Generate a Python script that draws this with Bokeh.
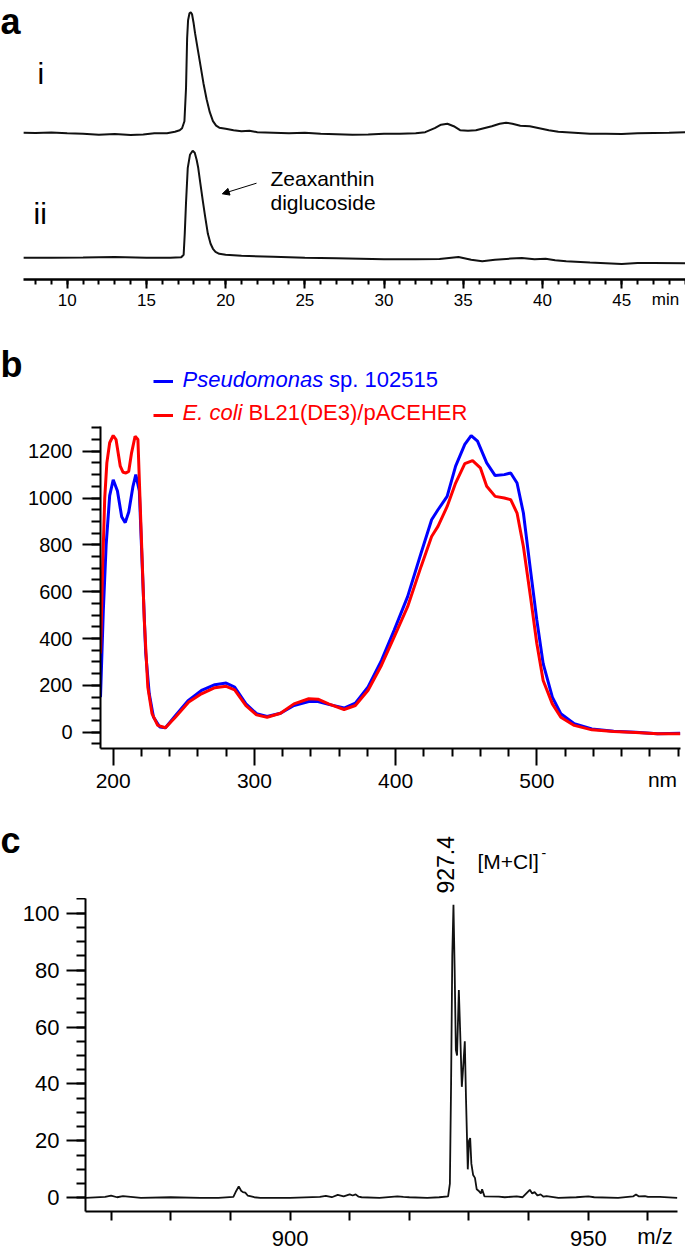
import numpy as np
from bokeh.plotting import figure
from bokeh.layouts import column
from bokeh.models import (Range1d, SingleIntervalTicker, FixedTicker, Label, LinearAxis,
                          Arrow, NormalHead, Legend, LegendItem)
from bokeh.embed import file_html
from bokeh.resources import INLINE

FONT = "Liberation Sans"

# ---------------- panel a: HPLC chromatograms (relative signal) ----------------
time_i = [7.25, 8.0, 9.0, 10.0, 11.0, 12.0, 13.0, 14.0, 14.8, 15.5, 16.3, 16.8, 17.1, 17.25,
          17.4, 17.5, 17.57, 17.63, 17.72, 17.8, 17.88, 17.97, 18.07, 18.25, 18.42, 18.6,
          18.8, 19.0, 19.2, 19.4, 19.6, 20.0, 20.5, 21.0, 21.5, 22.0, 23.0, 24.0, 25.0,
          26.0, 27.0, 28.0, 29.0, 30.0, 31.0, 32.0, 32.6, 33.2, 33.6, 34.0, 34.4, 34.8,
          35.3, 35.8, 36.3, 36.8, 37.3, 37.7, 38.1, 38.6, 39.2, 39.8, 40.4, 41.0, 42.0,
          43.0, 44.0, 45.0, 46.0, 47.0, 48.0, 49.0]
signal_i = [0.5, 0.3, 0.6, 0.0, -0.5, -1.5, -0.8, -1.8, -1.2, 0.0, 0.0, 1.5, 3.0, 5.0,
            12.0, 45.0, 95.0, 113.0, 120.0, 121.0, 119.0, 111.0, 100.0, 83.0, 67.0, 50.0,
            34.0, 21.0, 12.0, 7.5, 5.5, 4.5, 3.0, 2.0, 2.5, 1.0, 0.5, 0.0, 0.5,
            -0.5, -1.0, -1.5, -1.2, -0.5, -0.5, 0.0, 1.0, 5.0, 8.5, 9.5, 7.0, 3.0,
            2.5, 3.0, 5.0, 7.0, 9.5, 10.5, 9.5, 7.5, 7.0, 5.0, 3.0, 1.5, 0.5,
            -0.5, -0.5, -0.8, 0.0, 0.3, 0.5, 1.0]
time_ii = [7.25, 9.0, 11.0, 13.0, 15.0, 16.5, 17.2, 17.35, 17.42, 17.5, 17.61, 17.75,
           17.92, 18.05, 18.17, 18.27, 18.4, 18.56, 18.7, 18.88, 19.05, 19.2, 19.36,
           19.6, 20.0, 21.0, 23.0, 25.0, 27.0, 30.0, 32.0, 33.5, 34.7, 35.5, 36.2,
           37.0, 38.0, 38.7, 39.5, 40.2, 40.8, 41.5, 43.0, 45.0, 46.0, 47.0, 49.0]
signal_ii = [0.0, 0.0, 0.3, 0.7, 0.0, 0.0, 0.5, 3.0, 24.0, 55.0, 90.0, 103.0,
             107.0, 105.0, 98.0, 90.0, 75.0, 57.0, 42.0, 24.0, 14.0, 9.0, 6.0,
             4.0, 3.0, 2.0, 1.0, 0.0, -0.5, -1.5, -1.5, -1.2, 0.7, -2.0, -3.5,
             -2.0, -0.8, -0.3, -1.5, -1.0, -2.5, -3.5, -4.8, -6.2, -5.3, -5.3, -5.5]
trace_labels = ["i", "ii"]
OFFSET_I = 146.3
OFFSET_II = 21.7

# ---------------- panel b: UV-vis spectra ----------------
nm_blue = [191, 193, 195, 197.5, 200, 203, 206, 208.5, 211, 214, 216, 218.5, 220.5, 223,
           225.5, 228.5, 233, 237, 244, 253, 263, 272, 280, 286, 294, 301.5, 309, 318.5,
           328, 338.5, 345, 352.5, 363.5, 371.5, 380.5, 390, 399, 408.5, 418, 425.5, 430,
           436.5, 442.5, 449, 453.5, 458, 464.5, 470.5, 477, 481.5, 486, 490.5, 495.5,
           500, 504.5, 511, 517, 526.5, 539, 554.5, 570, 585.5, 601.5]
abs_blue = [150, 520, 800, 1010, 1078, 1030, 920, 895, 940, 1050, 1100, 1030, 720, 340,
            165, 65, 22, 19, 70, 135, 180, 203, 210, 193, 121, 79, 67, 81,
            114, 131, 131, 119, 103, 124, 193, 307, 436, 579, 764, 907, 950,
            1007, 1136, 1229, 1267, 1243, 1150, 1096, 1100, 1107, 1064, 936, 693,
            479, 293, 150, 79, 36, 14, 4, 0, -7, -4]
nm_red = [191, 192.5, 194, 195.5, 197.5, 200, 202, 205, 207, 209, 211, 213, 215.5, 217.5,
          219.5, 222, 224.5, 227.5, 231.5, 237, 244, 253.5, 262.5, 272, 280, 286, 294,
          301.5, 309, 318.5, 328, 338.5, 345, 352.5, 363.5, 371.5, 380.5, 390, 399, 408.5,
          418, 425.5, 430, 436.5, 442.5, 449, 454.5, 460, 464.5, 470.5, 477, 481.5, 486,
          490.5, 495.5, 500, 504.5, 511, 517, 526.5, 539, 554.5, 570, 585.5, 601.5]
abs_red = [336, 700, 1000, 1150, 1236, 1267, 1250, 1136, 1110, 1107, 1114, 1193, 1264, 1250,
           907, 479, 193, 79, 29, 19, 64, 129, 164, 190, 196, 181, 114,
           74, 64, 81, 121, 143, 141, 121, 97, 114, 179, 286, 407, 536,
           707, 836, 879, 964, 1064, 1147, 1160, 1129, 1050, 1007, 1000, 993, 936,
           793, 579, 379, 221, 121, 64, 29, 10, 3, -1, -7, -7]
legend_species = [("Pseudomonas", "sp. 102515"), ("E. coli", "BL21(DE3)/pACEHER")]
b_major_ticks = [200, 300, 400, 500]
b_minor_ticks = [220, 240, 260, 280, 320, 340, 360, 380, 420, 440, 460, 480,
                 520, 540, 560, 580, 600]

# ---------------- panel c: mass spectrum ----------------
mz = [865.7, 869, 870, 871, 872, 875, 880, 885, 888, 890.5, 891.0, 891.4, 891.8, 892.1,
      892.5, 892.9, 893.3, 894, 895, 900, 905, 906, 907, 908, 909, 910, 910.5, 911, 911.5,
      912, 915, 918, 919, 920, 923, 925, 926.5, 926.8, 927.0, 927.2, 927.4, 927.6, 927.8,
      928.0, 928.3, 928.5, 928.8, 929.0, 929.3, 929.5, 929.8, 930.0, 930.2, 930.4, 930.7,
      931.0, 931.3, 931.6, 932.0, 932.2, 932.6, 935, 936, 938, 939, 940.2, 940.6, 941,
      941.5, 942, 942.5, 943, 945, 948, 950, 951, 955, 957.5, 958, 958.5, 959.5, 960,
      962, 964.9]
intensity = [0, 0.3, 0.8, 0.2, 0.6, 0, 0.2, 0, 0, 0.3, 2.5, 4.0, 2.5, 2.0,
             1.8, 0.8, 0.6, 0.2, 0, 0, 0.3, 0.7, 0.2, 1.0, 0.5, 1.2, 0.8, 1.2, 0.4,
             0.2, 0, 0.5, 0.3, 0.2, 0, 0.2, 0.5, 5, 40, 85, 103, 80, 52,
             50, 73, 60, 39, 45, 55, 35, 10, 20, 21, 12, 8,
             7, 3, 2.5, 1.5, 3, 0.5, 0.4, 0.2, 0.5, 0.2, 2.8, 1.5, 2.0,
             0.8, 1.2, 0.4, 0.6, 0, 0.2, 0.5, 0.2, 0, 0.5, 1.2, 0.5, 0.6, 0.3,
             0.3, 0]
c_major_ticks = [900, 950]
c_minor_ticks = [870, 880, 890, 910, 920, 930, 940, 960]
peak_label = "927.4"
ion_label = "[M+Cl]"
units = {"a": (47.77, "min"), "b": (589.0, "nm"), "c": (961.2, "m/z")}


def base_fig(**kw):
    p = figure(output_backend="svg", toolbar_location=None, width=685,
               min_border_right=0, frame_align=False, **kw)
    p.outline_line_color = None
    p.grid.visible = False
    p.background_fill_color = "white"
    p.border_fill_color = "white"
    return p


def header_fig(height):
    return base_fig(height=height, x_axis_location=None, y_axis_location=None,
                    min_border_left=0, min_border_top=0, min_border_bottom=0,
                    x_range=Range1d(0, 685), y_range=Range1d(0, height))


def style_axis(ax, size, tick_out, minor_out, standoff, lw=2):
    ax.axis_line_width = lw
    ax.axis_line_color = "black"
    ax.major_tick_in = 0
    ax.minor_tick_in = 0
    ax.major_tick_out = tick_out
    ax.minor_tick_out = minor_out
    ax.major_tick_line_width = 2
    ax.minor_tick_line_width = 2
    ax.major_tick_line_color = "black"
    ax.minor_tick_line_color = "black"
    ax.major_label_text_font = FONT
    ax.major_label_text_font_size = size
    ax.major_label_text_color = "black"
    ax.major_label_standoff = standoff


def unit_axis(p, key, size, standoff):
    pos, text = units[key]
    ax = LinearAxis(ticker=FixedTicker(ticks=[pos], minor_ticks=[]),
                    major_label_overrides={pos: text},
                    axis_line_color=None, major_tick_line_color=None,
                    minor_tick_line_color=None, major_tick_out=0, major_tick_in=0,
                    minor_tick_out=0, minor_tick_in=0, major_label_standoff=standoff,
                    major_label_text_font=FONT, major_label_text_font_size=size,
                    major_label_text_color="black")
    p.add_layout(ax, "below")


def label(p, x, y, text, size, **kw):
    kw.setdefault("text_baseline", "middle")
    p.add_layout(Label(x=x, y=y, x_units="screen", y_units="screen", text=text,
                       text_font=FONT, text_font_size=size, text_color=kw.pop("color", "black"),
                       **kw))


# ---------------- figure a (page y 0..330) ----------------
pa = base_fig(height=330, x_range=Range1d(5.789, 49.03), y_range=Range1d(0, 279),
              y_axis_location=None, min_border_left=0, min_border_top=0, min_border_bottom=51)
pa.line(time_i, np.array(signal_i) + OFFSET_I, color="#111111", line_width=2)
pa.line(time_ii, np.array(signal_ii) + OFFSET_II, color="#111111", line_width=2)
pa.xaxis.ticker = SingleIntervalTicker(interval=5, num_minor_ticks=5)
pa.xaxis.bounds = (7.24, 49.03)
style_axis(pa.xaxis[0], "17px", 9, 5, 5, lw=2.5)
unit_axis(pa, "a", "17px", -19)
label(pa, 0, 258, "a", "36px", text_font_style="bold")
label(pa, 37, 206.5, trace_labels[0], "30px")
label(pa, 33, 66.5, trace_labels[1], "30px")
label(pa, 270, 101.4, "Zeaxanthin", "21px")
label(pa, 270, 76.8, "diglucoside", "21px")
pa.add_layout(Arrow(end=NormalHead(size=7, fill_color="black", line_color="black", line_width=1),
                    x_start=21.95, y_start=96.3, x_end=19.79, y_end=85.7,
                    line_width=1, line_color="black"))

# ---------------- figure b header (page y 330..426) ----------------
pbh = header_fig(96)
hb = pbh.line(nm_blue, abs_blue, color="#0000FF", line_width=3, visible=False)
hr = pbh.line(nm_red, abs_red, color="#FF0000", line_width=3, visible=False)
leg = Legend(items=[LegendItem(label=" ", renderers=[hb]), LegendItem(label=" ", renderers=[hr])],
             location=(153, 1), orientation="vertical", glyph_width=20, glyph_height=20,
             label_height=20, label_width=0, label_standoff=0, spacing=14, padding=0,
             margin=0, border_line_color=None, background_fill_alpha=0,
             label_text_font_size="1px")
pbh.add_layout(leg)
label(pbh, 0, 61.6, "b", "36px", text_font_style="bold")
label(pbh, 182, 46.7, legend_species[0][0], "22px", color="#0000FF", text_font_style="italic")
label(pbh, 328.5, 46.7, legend_species[0][1], "22px", color="#0000FF")
label(pbh, 182, 13.7, legend_species[1][0], "22px", color="#FF0000", text_font_style="italic")
label(pbh, 248, 13.7, legend_species[1][1], "22px", color="#FF0000")

# ---------------- figure b (page y 426..800) ----------------
pb = base_fig(height=374, x_range=Range1d(191.0, 605.3), y_range=Range1d(-69.6, 1305.5),
              min_border_left=100, min_border_top=0, min_border_bottom=52)
pb.line(nm_blue, abs_blue, color="#0000FF", line_width=3)
pb.line(nm_red, abs_red, color="#FF0000", line_width=3)
pb.xaxis.ticker = FixedTicker(ticks=b_major_ticks, minor_ticks=b_minor_ticks)
pb.xaxis.bounds = (191.0, 601.8)
pb.yaxis.ticker = SingleIntervalTicker(interval=200, num_minor_ticks=4)
style_axis(pb.xaxis[0], "21px", 17, 8, 8)
style_axis(pb.yaxis[0], "20px", 18, 9, 10)
unit_axis(pb, "b", "21px", -23)

# ---------------- figure c header (page y 800..898) ----------------
pch = header_fig(98)
label(pch, 0, 57.6, "c", "36px", text_font_style="bold")
label(pch, 445, 5, peak_label, "23px", angle=np.pi / 2, text_align="left")
label(pch, 477, 37.3, ion_label, "21px")
label(pch, 541, 46, "-", "14px")

# ---------------- figure c (page y 898..1255) ----------------
pc = base_fig(height=357, x_range=Range1d(865.71, 966.3), y_range=Range1d(-4.81, 105.17),
              min_border_left=85, min_border_top=0, min_border_bottom=44)
pc.line(mz, intensity, color="#111111", line_width=1.8)
pc.xaxis.ticker = FixedTicker(ticks=c_major_ticks, minor_ticks=c_minor_ticks)
pc.xaxis.bounds = (865.71, 964.9)
pc.yaxis.ticker = SingleIntervalTicker(interval=20, num_minor_ticks=4)
style_axis(pc.xaxis[0], "22px", 9, 9, 10)
style_axis(pc.yaxis[0], "22px", 19, 9, 7)
unit_axis(pc, "c", "22px", -25)

layout = column(pa, pbh, pb, pch, pc)
open("out.html", "w").write(file_html(layout, INLINE))
